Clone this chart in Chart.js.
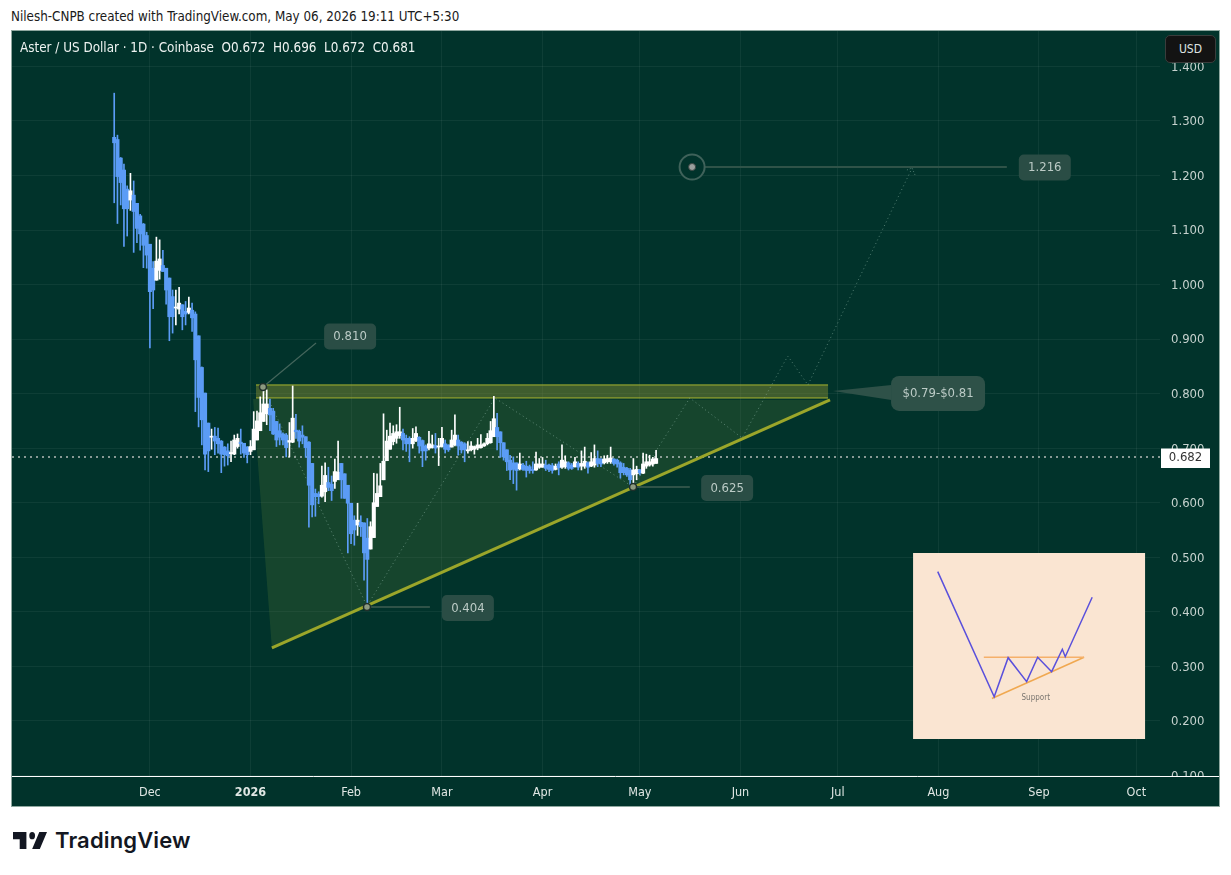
<!DOCTYPE html>
<html><head><meta charset="utf-8"><title>Aster / US Dollar</title>
<script src="https://cdn.jsdelivr.net/npm/chart.js@4"></script>
<style>
html,body{margin:0;padding:0;background:#fff;width:1231px;height:875px;overflow:hidden}
#hdr{position:absolute;left:11px;top:9px;font:13.3px "DejaVu Sans Condensed","DejaVu Sans",sans-serif;color:#1a1a1a;white-space:nowrap}
#frame{position:absolute;left:11px;top:30px;width:1207px;height:775px;border:1px solid #8fa8a0;background:#01332b}
canvas{position:absolute;left:0;top:0}
#legend{position:absolute;left:20px;top:40px;font:13.35px "DejaVu Sans Condensed","DejaVu Sans",sans-serif;color:#eef3f1;white-space:pre}
#usd{position:absolute;left:1165px;top:35px;width:49px;height:26px;border:1px solid #3a3d3c;border-radius:5px;background:#131313;color:#dfe3e2;font:12px "DejaVu Sans Condensed","DejaVu Sans",sans-serif;line-height:26px;text-align:center}
#logo{position:absolute;left:13px;top:832px;width:34px;height:17px}
#brand{position:absolute;left:55px;top:827px;font:600 22px Inter,sans-serif;color:#131722;letter-spacing:.15px;white-space:nowrap}
</style></head><body>
<div id="hdr">Nilesh-CNPB created with TradingView.com, May 06, 2026 19:11 UTC+5:30</div>
<div id="frame"><canvas id="c" width="1207" height="775"></canvas></div>
<div id="legend">Aster / US Dollar · 1D · Coinbase  O0.672  H0.696  L0.672  C0.681</div>
<div id="usd">USD</div>
<svg id="logo" viewBox="0 6 35.5 14" preserveAspectRatio="none"><path fill="#131722" d="M14 6H0v6h7v8h7V6Z M28 20h-8l7.5-14h8L28 20Z"/><circle fill="#131722" cx="20" cy="9" r="3"/></svg>
<div id="brand">TradingView</div>
<script>
// Candles: one per day, first candle is 42 days before 1 Jan 2026
const firstDay = -42;
const opens = [1.270,1.266,1.232,1.210,1.175,1.155,1.164,1.149,1.126,1.111,1.090,1.074,1.030,1.008,1.026,1.035,1.030,1.012,.978,.957,.955,.963,.951,.949,.953,.946,.906,.848,.801,.746,.720,.722,.718,.713,.702,.695,.690,.689,.703,.711,.709,.702,
.694,.697,.715,.732,.749,.763,.773,.768,.749,.732,.726,.724,.711,.711,.733,.731,.724,.721,.711,.672,.617,.616,.612,.620,.637,.634,.639,.642,.672,.653,.632,.599,.568,.559,.564,.563,.535,.515,.536,.593,.611,.642,.677,.698,.712,.718,.723,.727,.718,.718,.708,.714,.720,.714,.704,.700,.701,.705,.702,
.703,.708,.706,.702,.706,.715,.711,.708,.695,.697,.698,.700,.701,.704,.708,.710,.721,.738,.730,.710,.697,.678,.673,.673,.662,.669,.667,.666,.661,.660,.665,.665,.669,.669,.668,.661,.671,.665,.666,.673,.669,.666,.672,.667,.667,.673,.667,.669,.681,.680,.673,.675,.675,.680,.678,.673,.665,.663,.660,.651,.653,.660,.654,.667,.669,.671,.672];
const highs = [1.351,1.274,1.233,1.221,1.181,1.204,1.190,1.149,1.129,1.112,1.096,1.074,1.042,1.087,1.082,1.063,1.030,1.012,.990,.990,.995,.963,.969,.977,.966,.950,.906,.849,.801,.746,.735,.738,.737,.714,.703,.708,.713,.724,.726,.735,.709,.703,
.714,.767,.768,.794,.810,.807,.790,.773,.749,.744,.728,.727,.747,.814,.762,.733,.741,.721,.712,.672,.625,.620,.667,.673,.665,.649,.680,.713,.672,.653,.632,.599,.576,.599,.576,.563,.571,.565,.654,.653,.672,.763,.733,.746,.741,.743,.775,.735,.724,.721,.736,.739,.721,.715,.706,.731,.724,.727,.718,
.738,.715,.706,.733,.761,.724,.712,.710,.712,.712,.704,.718,.725,.710,.727,.749,.795,.764,.730,.710,.697,.687,.684,.673,.691,.672,.676,.669,.675,.693,.681,.683,.678,.671,.672,.671,.675,.706,.686,.675,.672,.683,.675,.695,.702,.675,.692,.706,.695,.681,.686,.687,.702,.681,.680,.675,.672,.665,.663,.681,.667,.661,.691,.689,.687,.683,.696];
const lows = [1.150,1.112,1.146,1.070,1.089,1.136,1.059,1.077,1.063,1.031,1.030,.884,.956,1.008,1.010,1.024,.964,.897,.911,.926,.946,.917,.926,.946,.914,.767,.739,.706,.660,.657,.698,.688,.691,.655,.667,.669,.675,.688,.700,.689,.683,.673,
.688,.697,.715,.732,.749,.743,.732,.725,.703,.706,.706,.684,.684,.710,.718,.702,.708,.683,.555,.574,.575,.598,.610,.602,.622,.604,.626,.642,.608,.608,.508,.525,.522,.540,.538,.458,.404,.515,.536,.593,.611,.642,.677,.698,.706,.709,.718,.697,.694,.675,.700,.712,.691,.666,.678,.697,.700,.691,.668,
.702,.691,.694,.702,.704,.687,.691,.675,.691,.695,.689,.697,.700,.703,.706,.709,.721,.697,.683,.678,.659,.642,.635,.623,.660,.659,.647,.654,.654,.659,.663,.665,.659,.657,.654,.660,.651,.663,.663,.660,.661,.665,.660,.660,.663,.654,.666,.665,.666,.666,.671,.672,.672,.669,.665,.645,.651,.648,.628,.629,.642,.651,.653,.663,.667,.667,.672];
const closes = [1.260,1.198,1.187,1.139,1.139,1.172,1.134,1.103,1.093,1.072,1.054,.987,.990,1.043,1.047,1.024,.990,.941,.941,.958,.966,.941,.946,.957,.939,.862,.793,.752,.689,.695,.722,.713,.708,.689,.688,.686,.692,.715,.718,.708,.691,.688,
.703,.735,.750,.765,.781,.781,.761,.726,.715,.720,.715,.701,.714,.755,.730,.713,.720,.701,.632,.596,.611,.611,.632,.650,.628,.622,.657,.656,.642,.608,.599,.543,.550,.568,.556,.508,.496,.556,.600,.617,.631,.676,.713,.722,.727,.730,.730,.715,.708,.708,.718,.727,.704,.695,.695,.708,.706,.700,.704,
.718,.698,.697,.715,.724,.704,.697,.697,.697,.704,.703,.706,.706,.708,.718,.732,.754,.721,.710,.684,.675,.660,.661,.659,.671,.661,.659,.659,.659,.671,.671,.671,.663,.661,.659,.667,.664,.678,.675,.663,.663,.675,.665,.672,.676,.665,.675,.681,.672,.671,.680,.681,.682,.672,.671,.655,.655,.651,.642,.660,.661,.655,.671,.675,.675,.680,.681];

// Axes (x = days since 1 Jan 2026)
const monthDays = [-31,0,31,59,90,120,151,181,212,243,273];
const monthLabels = ["Dec","2026","Feb","Mar","Apr","May","Jun","Jul","Aug","Sep","Oct"];
const priceTicks = [1.4,1.3,1.2,1.1,1.0,.9,.8,.7,.6,.5,.4,.3,.2,.1];
const xMin=-73.5, xMax=280.3, yMin=.0988, yMax=1.4650;
const lastPrice = .6838;

// Drawings, as [day, price]
const triangle = [[.8,.7902],[178.6,.7884],[6.6,.3336]];
const trendLine = [[6.6,.3336],[178.6,.7884]];
const zone = [[1.7,.8159],[178,.8159],[178,.7920],[1.7,.7920]];
const projection = [[3.7,.8122],[35.9,.4106],[75.3,.7920],[117.9,.6288],[135.4,.7920],[151.5,.7187],[165.6,.8690],[171.8,.8159],[203.9,1.2138]];
const arrowHead = [[202.3,1.2101],[203.9,1.2138],[204.8,1.2010]];
const leader810 = [[3.85,.8122],[20.2,.8929]];
const leader404 = [[35.9,.4088],[55.3,.4088]];
const leader625 = [[117.9,.6288],[135.4,.6288]];
const leader1216 = [[136.1,1.2156],[233.1,1.2156]];
const pivots = [[3.85,.8122],[35.9,.4088],[117.9,.6288]];
const target = [[136.1,1.2156]];
const pointerShape = [[179.5,.8049],[197.5,.8159],[197.5,.7885]];
const tags = [["0.810",30.7,.9048],["0.404",67.0,.4069],["0.625",146.9,.6270],["1.216",244.8,1.2147],["$0.79-$0.81",211.9,.8003]];

// Inset sketch
const insetPanel = [[204.2,.5078],[275.7,.5078],[275.7,.1667],[204.2,.1667]];
const insetPrice = [[211.8,.4735],[229.2,.2442],[233.5,.3158],[239.2,.2718],[242.6,.3165],[246.9,.2901],[250.2,.3312],[251.1,.3176],[259.4,.4265]];
const insetResistance = [[226.0,.3165],[256.9,.3165]];
const insetSupport = [[228.5,.2410],[256.9,.3165]];
const insetText = ["Support",242,.2419];

const pts = a => a.map(p => ({x:p[0], y:p[1]}));
const days = closes.map((_,i) => firstDay+i);
const colors = closes.map((c,i) => c>=opens[i] ? "#ffffff" : "#5b9cf6");
const line = (data,color,width,order,extra) => Object.assign({type:"line",data:pts(data),borderColor:color,borderWidth:width,pointRadius:0,tension:0,fill:false,order,clip:false},extra||{});
const poly = (data,fillc,order,extra) => line(data.concat([data[0]]),"rgba(0,0,0,0)",0,order,Object.assign({fill:"shape",backgroundColor:fillc},extra||{}));
const UI = '"DejaVu Sans Condensed","DejaVu Sans",sans-serif';

const overlay = {
  id:"overlay",
  afterDraw(ch){
    const g=ch.ctx, X=ch.scales.x, Y=ch.scales.y, W=ch.width;
    g.save();
    // clipped axis labels near the USD button and the time axis
    g.fillStyle="#01332b";
    g.fillRect(ch.chartArea.right+1,0,W,32);
    g.fillRect(ch.chartArea.right+1,ch.chartArea.bottom,W,7);
    g.strokeStyle="#ffffff"; g.lineWidth=1;
    g.beginPath(); g.moveTo(0,ch.chartArea.bottom+.5); g.lineTo(W,ch.chartArea.bottom+.5); g.stroke();
    // tag boxes
    g.textAlign="center"; g.textBaseline="middle";
    tags.forEach((t,i)=>{
      const x=X.getPixelForValue(t[1]), y=Y.getPixelForValue(t[2]);
      const w=i==4?94:52, h=i==4?35:26;
      g.fillStyle=i==4?"#2e5148":"#2a4d45";
      g.beginPath(); g.roundRect(x-w/2,y-h/2,w,h,i==4?8:5); g.fill();
      g.fillStyle="#bccbc6"; g.font="13px "+UI;
      g.fillText(t[0],x,y+.5);
    });
    // inset caption
    g.fillStyle="#7a7670"; g.font="8px "+UI;
    g.fillText(insetText[0],X.getPixelForValue(insetText[1]),Y.getPixelForValue(insetText[2]));
    // last price tag
    const py=Y.getPixelForValue(lastPrice);
    g.fillStyle="#ffffff"; g.fillRect(ch.chartArea.right+1,py-8.5,49,19.5);
    g.fillStyle="#333333"; g.font="13px "+UI;
    g.fillText("0.682",ch.chartArea.right+25.5,py+1);
    g.restore();
  }
};

new Chart(document.getElementById("c"),{
  type:"bar",
  data:{datasets:[
    poly(triangle,"rgba(84,125,55,0.26)",20),
    poly(zone,"rgba(125,135,50,0.5)",19),
    line([zone[0],zone[1]],"#a9b52f",1,18),
    line([zone[3],zone[2]],"#a9b52f",1,18),
    line([[xMin,lastPrice],[xMax,lastPrice]],"#b5bdb9",1.5,15,{borderDash:[2,4]}),
    line(projection,"rgba(150,185,172,0.55)",1,14,{borderDash:[1,3]}),
    line(arrowHead,"rgba(150,185,172,0.55)",1,14,{borderDash:[1,2]}),
    {type:"bar",grouped:false,data:days.map((d,i)=>({x:d,y:[lows[i],highs[i]]})),backgroundColor:colors,barThickness:1,borderWidth:0,order:12},
    {type:"bar",grouped:false,data:days.map((d,i)=>({x:d,y:[opens[i],closes[i]]})),backgroundColor:colors,barThickness:3.4,minBarLength:1,borderWidth:0,order:11},
    line(trendLine,"#9ba62a",3,8),
    line(leader810,"#44665c",1.2,7),
    line(leader404,"#2f5348",2,7),
    line(leader625,"#2f5348",2,7),
    line(leader1216,"#2f5348",2,7),
    poly(pointerShape,"#2e5148",7),
    line(pivots,"rgba(0,0,0,0)",0,5,{showLine:false,pointRadius:3.5,pointBackgroundColor:"#8d9a80",pointBorderColor:"#1f2f2a",pointBorderWidth:1.5}),
    line(target,"rgba(0,0,0,0)",0,5,{showLine:false,pointRadius:12.5,pointBackgroundColor:"#01332b",pointBorderColor:"#3f625a",pointBorderWidth:2}),
    line(target,"rgba(0,0,0,0)",0,4,{showLine:false,pointRadius:3.5,pointBackgroundColor:"#9a9f9d",pointBorderColor:"#3d4744",pointBorderWidth:1}),
    poly(insetPanel,"#fae5d2",3),
    line(insetResistance,"#f5b06a",1.5,2),
    line(insetSupport,"#f0a850",1.5,2),
    line(insetPrice,"#5a50dc",1.5,1)
  ]},
  options:{
    responsive:false,animation:false,devicePixelRatio:1,
    layout:{padding:0,autoPadding:false},
    plugins:{legend:{display:false},tooltip:{enabled:false}},
    scales:{
      x:{type:"linear",min:xMin,max:xMax,offset:false,
        afterBuildTicks(s){s.ticks=monthDays.map(v=>({value:v}));},
        afterFit(s){s.height=30;s.paddingLeft=0;s.paddingRight=0;},
        grid:{offset:false,color:"rgba(255,255,255,0.055)",lineWidth:1,drawTicks:false},
        border:{display:false},
        ticks:{autoSkip:false,maxRotation:0,padding:9,color:"#e0e7e4",
          font:c=>({family:UI,size:12.5,weight:c.tick&&c.tick.value===0?"bold":"normal"}),
          callback:v=>monthLabels[monthDays.indexOf(v)]}
      },
      y:{type:"linear",position:"right",min:yMin,max:yMax,
        afterBuildTicks(s){s.ticks=priceTicks.map(v=>({value:v}));},
        afterFit(s){s.width=59;s.paddingTop=0;s.paddingBottom=0;},
        grid:{color:"rgba(255,255,255,0.055)",lineWidth:1,drawTicks:false},
        border:{display:false},
        ticks:{padding:11,labelOffset:1,color:"#c6d2ce",font:{family:UI,size:13},callback:v=>v.toFixed(3)}
      }
    }
  },
  plugins:[overlay]
});
</script>
</body></html>
